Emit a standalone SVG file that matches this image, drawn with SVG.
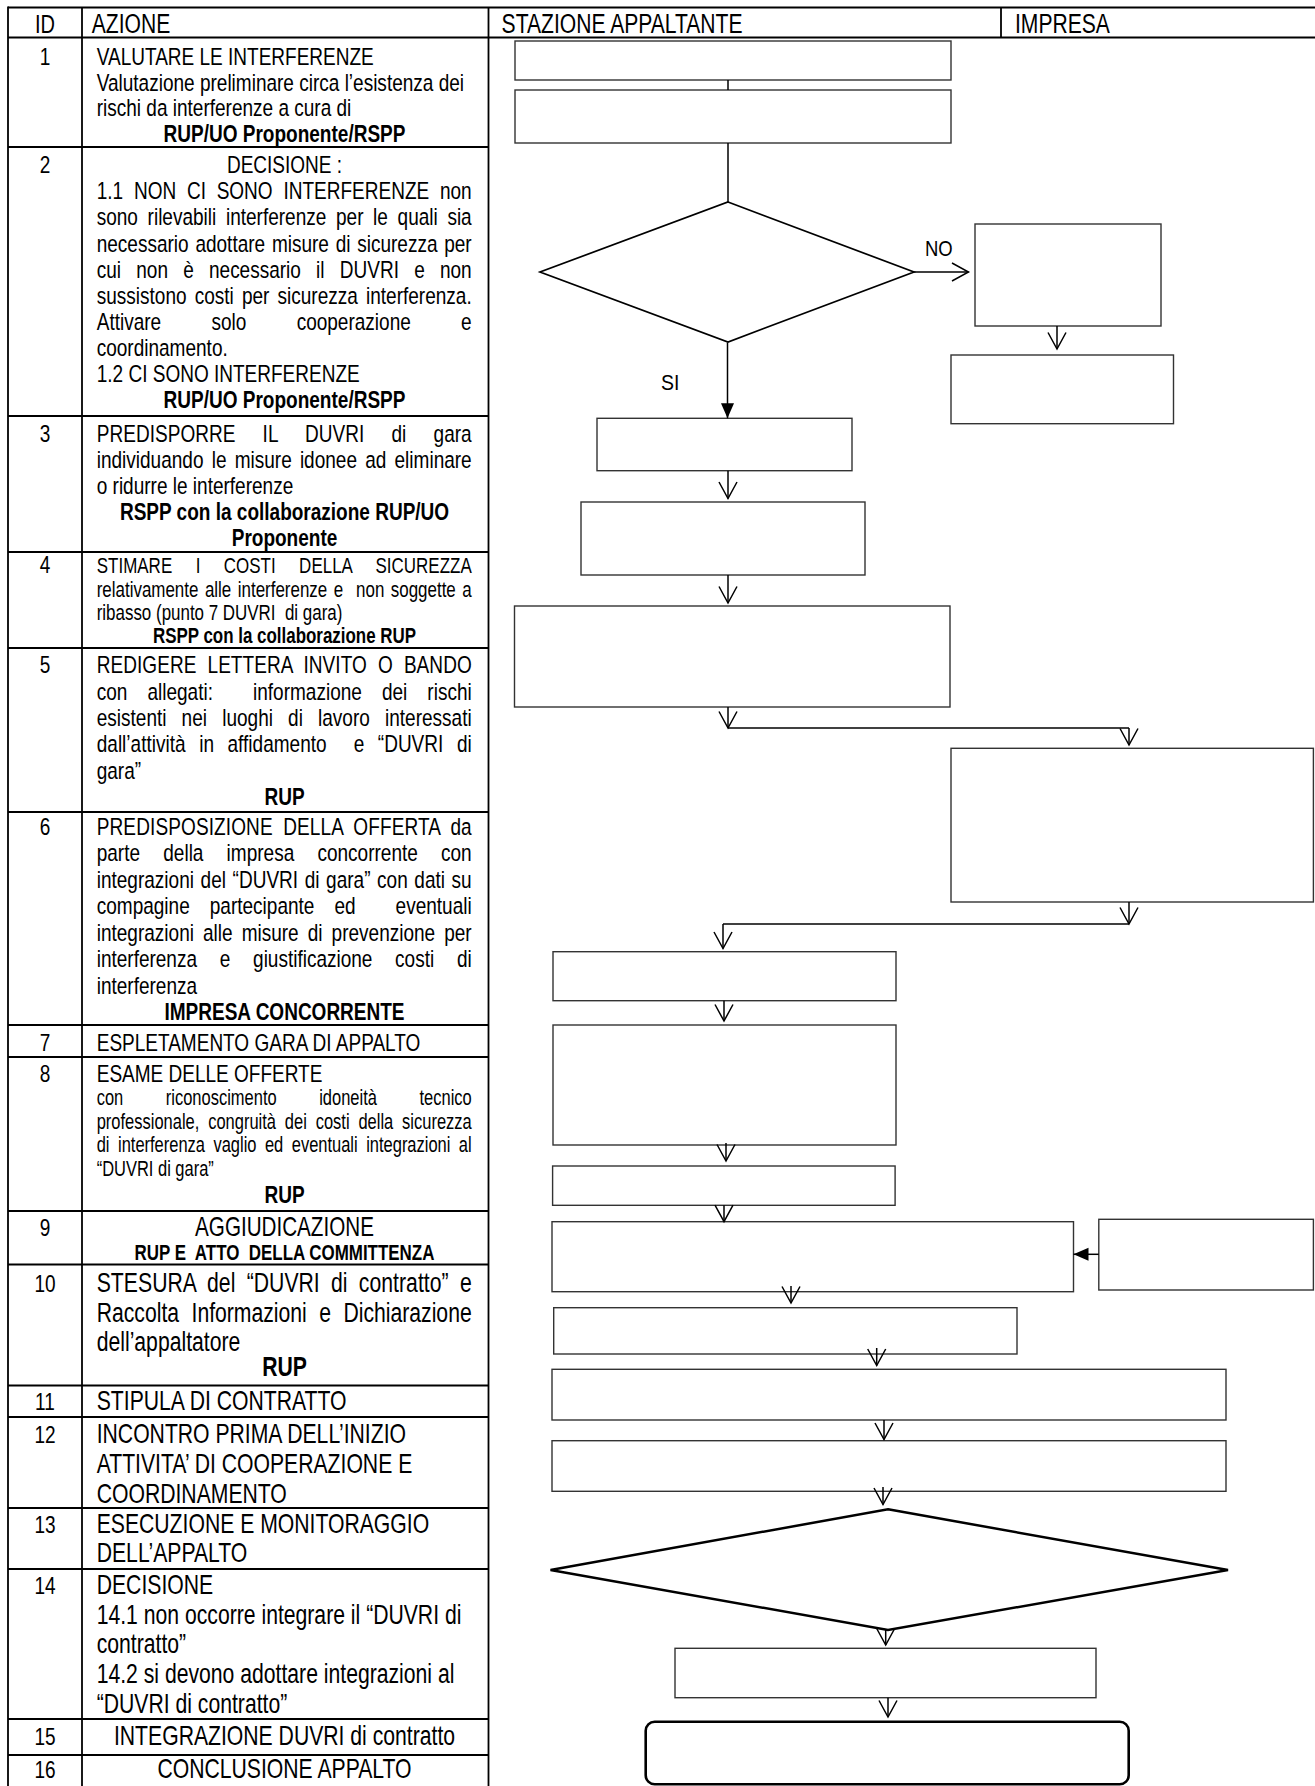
<svg xmlns="http://www.w3.org/2000/svg" width="1315" height="1786" viewBox="0 0 1315 1786">
<style>
.t{font-family:"Liberation Sans",Arial,sans-serif;fill:#000}
.b{font-weight:bold}
.m{text-anchor:middle}
.s22{font-size:22px}
.s214{font-size:21.4px}
.s247{font-size:24.7px}
.s268{font-size:26.8px}
.s275{font-size:27.5px}
.grid line{stroke:#000;stroke-width:1.8}
.box{fill:#fff;stroke:#333;stroke-width:1.4}
.dia{fill:#fff;stroke:#000}
.c{fill:none;stroke:#000;stroke-width:1.5}
.ao{marker-end:url(#open)}
.as{marker-end:url(#solid)}
.lbl{font-family:"Liberation Sans",Arial,sans-serif;font-size:22px;fill:#000}
</style>
<defs>
<marker id="open" markerUnits="userSpaceOnUse" markerWidth="20" markerHeight="22" viewBox="0 0 20 22" refX="18" refY="11" orient="auto"><path d="M1.5,2 L18,11 L1.5,20" fill="none" stroke="#000" stroke-width="1.5"/></marker>
<marker id="solid" markerUnits="userSpaceOnUse" markerWidth="16" markerHeight="14" viewBox="0 0 16 14" refX="15" refY="7" orient="auto"><path d="M0,0.5 L15,7 L0,13.5 z" fill="#000"/></marker>
</defs>
<rect width="1315" height="1786" fill="#fff"/>

<g id="table-grid" class="grid">
<line x1="8" y1="7.5" x2="1315" y2="7.5"/>
<line x1="8" y1="37.5" x2="1315" y2="37.5"/>
<line x1="1001" y1="7.5" x2="1001" y2="37.5"/>
<line x1="8" y1="6.6" x2="8" y2="1786"/>
<line x1="82" y1="7.5" x2="82" y2="1786"/>
<line x1="488.5" y1="7.5" x2="488.5" y2="1786"/>
<line x1="8" y1="147" x2="488.5" y2="147"/>
<line x1="8" y1="416" x2="488.5" y2="416"/>
<line x1="8" y1="552" x2="488.5" y2="552"/>
<line x1="8" y1="648" x2="488.5" y2="648"/>
<line x1="8" y1="812" x2="488.5" y2="812"/>
<line x1="8" y1="1025" x2="488.5" y2="1025"/>
<line x1="8" y1="1057" x2="488.5" y2="1057"/>
<line x1="8" y1="1211" x2="488.5" y2="1211"/>
<line x1="8" y1="1264.5" x2="488.5" y2="1264.5"/>
<line x1="8" y1="1385.5" x2="488.5" y2="1385.5"/>
<line x1="8" y1="1417" x2="488.5" y2="1417"/>
<line x1="8" y1="1508" x2="488.5" y2="1508"/>
<line x1="8" y1="1569" x2="488.5" y2="1569"/>
<line x1="8" y1="1719" x2="488.5" y2="1719"/>
<line x1="8" y1="1755" x2="488.5" y2="1755"/>
</g>

<g id="header" class="t" transform="scale(0.77 1)" font-size="27.4">
<text x="58.4" y="33" class="m" font-size="26">ID</text>
<text x="119.1" y="33">AZIONE</text>
<text x="651.4" y="33">STAZIONE APPALTANTE</text>
<text x="1318.2" y="33">IMPRESA</text>
</g>

<g id="row-1" class="t s247" transform="scale(0.77 1)">
<text x="58.4" y="65" class="m">1</text>
<text x="125.6" y="65">VALUTARE LE INTERFERENZE</text>
<text x="125.6" y="91">Valutazione preliminare circa l’esistenza dei</text>
<text x="125.6" y="116.5">rischi da interferenze a cura di</text>
<text x="369.5" y="142" class="m b">RUP/UO Proponente/RSPP</text>
</g>

<g id="row-2" class="t s247" transform="scale(0.77 1)">
<text x="58.4" y="173.3" class="m">2</text>
<text x="369.5" y="173.3" class="m">DECISIONE :</text>
<text x="125.6" y="199.4" word-spacing="7.08" textLength="487" lengthAdjust="spacing">1.1 NON CI SONO INTERFERENZE non</text>
<text x="125.6" y="225.5" word-spacing="5.67" textLength="487" lengthAdjust="spacing">sono rilevabili interferenze per le quali sia</text>
<text x="125.6" y="251.6" word-spacing="1.86" textLength="487" lengthAdjust="spacing">necessario adottare misure di sicurezza per</text>
<text x="125.6" y="277.6" word-spacing="12.9" textLength="487" lengthAdjust="spacing">cui non è necessario il DUVRI e non</text>
<text x="125.6" y="303.7" word-spacing="3.7" textLength="487" lengthAdjust="spacing">sussistono costi per sicurezza interferenza.</text>
<text x="125.6" y="329.8" word-spacing="58.5" textLength="487" lengthAdjust="spacing">Attivare solo cooperazione e</text>
<text x="125.6" y="355.9">coordinamento.</text>
<text x="125.6" y="382">1.2 CI SONO INTERFERENZE</text>
<text x="369.5" y="408" class="m b">RUP/UO Proponente/RSPP</text>
</g>

<g id="row-3" class="t s247" transform="scale(0.77 1)">
<text x="58.4" y="441.7" class="m">3</text>
<text x="125.6" y="441.7" word-spacing="28.4" textLength="487" lengthAdjust="spacing">PREDISPORRE IL DUVRI di gara</text>
<text x="125.6" y="467.7" word-spacing="3.78" textLength="487" lengthAdjust="spacing">individuando le misure idonee ad eliminare</text>
<text x="125.6" y="493.7">o ridurre le interferenze</text>
<text x="369.5" y="519.7" class="m b">RSPP con la collaborazione RUP/UO</text>
<text x="369.5" y="545.7" class="m b">Proponente</text>
</g>

<g id="row-4" class="t s22" transform="scale(0.77 1)">
<text x="58.4" y="573.3" class="m s247">4</text>
<text x="125.6" y="573.3" word-spacing="24.25" textLength="487" lengthAdjust="spacing">STIMARE I COSTI DELLA SICUREZZA</text>
<text x="125.6" y="596.6" xml:space="preserve" word-spacing="2.31" textLength="487" lengthAdjust="spacing">relativamente alle interferenze e  non soggette a</text>
<text x="125.6" y="620" xml:space="preserve">ribasso (punto 7 DUVRI  di gara)</text>
<text x="369.5" y="643.3" class="m b">RSPP con la collaborazione RUP</text>
</g>

<g id="row-5" class="t s247" transform="scale(0.77 1)">
<text x="58.4" y="673.3" class="m">5</text>
<text x="125.6" y="673.3" word-spacing="7.5" textLength="487" lengthAdjust="spacing">REDIGERE LETTERA INVITO O BANDO</text>
<text x="125.6" y="699.6" xml:space="preserve" word-spacing="19.2" textLength="487" lengthAdjust="spacing">con allegati:  informazione dei rischi</text>
<text x="125.6" y="726" word-spacing="12.8" textLength="487" lengthAdjust="spacing">esistenti nei luoghi di lavoro interessati</text>
<text x="125.6" y="752.3" xml:space="preserve" word-spacing="10.7" textLength="487" lengthAdjust="spacing">dall’attività in affidamento  e “DUVRI di</text>
<text x="125.6" y="778.6">gara”</text>
<text x="369.5" y="805" class="m b">RUP</text>
</g>

<g id="row-6" class="t s247" transform="scale(0.77 1)">
<text x="58.4" y="835" class="m">6</text>
<text x="125.6" y="835" word-spacing="6.47" textLength="487" lengthAdjust="spacing">PREDISPOSIZIONE DELLA OFFERTA da</text>
<text x="125.6" y="861.4" word-spacing="23.25" textLength="487" lengthAdjust="spacing">parte della impresa concorrente con</text>
<text x="125.6" y="887.9" word-spacing="1.71" textLength="487" lengthAdjust="spacing">integrazioni del “DUVRI di gara” con dati su</text>
<text x="125.6" y="914.3" xml:space="preserve" word-spacing="19.1" textLength="487" lengthAdjust="spacing">compagine partecipante ed  eventuali</text>
<text x="125.6" y="940.7" word-spacing="4.88" textLength="487" lengthAdjust="spacing">integrazioni alle misure di prevenzione per</text>
<text x="125.6" y="967.1" word-spacing="22.7" textLength="487" lengthAdjust="spacing">interferenza e giustificazione costi di</text>
<text x="125.6" y="993.6">interferenza</text>
<text x="369.5" y="1020" class="m b">IMPRESA CONCORRENTE</text>
</g>

<g id="row-7" class="t s247" transform="scale(0.77 1)">
<text x="58.4" y="1050.7" class="m">7</text>
<text x="125.6" y="1050.7">ESPLETAMENTO GARA DI APPALTO</text>
</g>

<g id="row-8" class="t s214" transform="scale(0.77 1)">
<text x="58.4" y="1081.7" class="m s247">8</text>
<text x="125.6" y="1081.7" class="s247">ESAME DELLE OFFERTE</text>
<text x="125.6" y="1105" word-spacing="49.3" textLength="487" lengthAdjust="spacing">con riconoscimento idoneità tecnico</text>
<text x="125.6" y="1128.7" word-spacing="5.58" textLength="487" lengthAdjust="spacing">professionale, congruità dei costi della sicurezza</text>
<text x="125.6" y="1152.4" word-spacing="5.05" textLength="487" lengthAdjust="spacing">di interferenza vaglio ed eventuali integrazioni al</text>
<text x="125.6" y="1176">“DUVRI di gara”</text>
<text x="369.5" y="1203.3" class="m b s247">RUP</text>
</g>

<g id="row-9" class="t" transform="scale(0.77 1)">
<text x="58.4" y="1235.7" class="m s247">9</text>
<text x="369.5" y="1235.7" class="m s268">AGGIUDICAZIONE</text>
<text x="369.5" y="1260" class="m b s22" xml:space="preserve">RUP E  ATTO  DELLA COMMITTENZA</text>
</g>

<g id="row-10" class="t s275" transform="scale(0.77 1)">
<text x="58.4" y="1292.3" class="m s247">10</text>
<text x="125.6" y="1292.3" word-spacing="6.94" textLength="487" lengthAdjust="spacing">STESURA del “DUVRI di contratto” e</text>
<text x="125.6" y="1321.8" word-spacing="8.5" textLength="487" lengthAdjust="spacing">Raccolta Informazioni e Dichiarazione</text>
<text x="125.6" y="1351.5">dell’appaltatore</text>
<text x="369.5" y="1376" class="m b">RUP</text>
</g>

<g id="row-11" class="t s275" transform="scale(0.77 1)">
<text x="58.4" y="1410" class="m s247">11</text>
<text x="125.6" y="1410">STIPULA DI CONTRATTO</text>
</g>

<g id="row-12" class="t s275" transform="scale(0.77 1)">
<text x="58.4" y="1443" class="m s247">12</text>
<text x="125.6" y="1443">INCONTRO PRIMA DELL’INIZIO</text>
<text x="125.6" y="1472.8">ATTIVITA’ DI COOPERAZIONE E</text>
<text x="125.6" y="1502.7">COORDINAMENTO</text>
</g>

<g id="row-13" class="t s275" transform="scale(0.77 1)">
<text x="58.4" y="1532.6" class="m s247">13</text>
<text x="125.6" y="1532.6">ESECUZIONE E MONITORAGGIO</text>
<text x="125.6" y="1562.5">DELL’APPALTO</text>
</g>

<g id="row-14" class="t s275" transform="scale(0.77 1)">
<text x="58.4" y="1594.2" class="m s247">14</text>
<text x="125.6" y="1594.2">DECISIONE</text>
<text x="125.6" y="1624.1">14.1 non occorre integrare il “DUVRI di</text>
<text x="125.6" y="1653.5">contratto”</text>
<text x="125.6" y="1683.2">14.2 si devono adottare integrazioni al</text>
<text x="125.6" y="1712.7">“DUVRI di contratto”</text>
</g>

<g id="row-15" class="t s275" transform="scale(0.77 1)">
<text x="58.4" y="1744.8" class="m s247">15</text>
<text x="369.5" y="1744.8" class="m">INTEGRAZIONE DUVRI di contratto</text>
</g>

<g id="row-16" class="t s275" transform="scale(0.77 1)">
<text x="58.4" y="1778.5" class="m s247">16</text>
<text x="369.5" y="1778.5" class="m">CONCLUSIONE APPALTO</text>
</g>

<g id="node-1a"><rect class="box" x="515" y="41" width="436" height="39"/></g>
<g id="node-1b"><rect class="box" x="515" y="90" width="436" height="53"/></g>
<g id="node-2-decision"><polygon class="dia" stroke-width="1.7" points="728,202 914,272 728,342 540,272"/></g>
<g id="node-2-no-a"><rect class="box" x="975" y="224" width="186" height="102"/></g>
<g id="node-2-no-b"><rect class="box" x="951" y="355" width="222.5" height="68.7"/></g>
<g id="node-3"><rect class="box" x="597" y="418.3" width="255" height="52.4"/></g>
<g id="node-4"><rect class="box" x="581" y="502" width="284" height="73"/></g>
<g id="node-5"><rect class="box" x="514.5" y="606" width="435.5" height="101"/></g>
<g id="node-6"><rect class="box" x="951" y="748.3" width="362.4" height="153.7"/></g>
<g id="node-7"><rect class="box" x="553" y="951.7" width="343" height="49"/></g>
<g id="node-8"><rect class="box" x="553" y="1025" width="343" height="120"/></g>
<g id="node-9"><rect class="box" x="552.6" y="1166" width="342.5" height="39.3"/></g>
<g id="node-10"><rect class="box" x="552" y="1221.7" width="521.5" height="70"/></g>
<g id="node-10-impresa"><rect class="box" x="1098.8" y="1219.3" width="214.6" height="70.7"/></g>
<g id="node-11"><rect class="box" x="553.7" y="1307.7" width="463.3" height="46.3"/></g>
<g id="node-12"><rect class="box" x="552" y="1369.3" width="674" height="50.7"/></g>
<g id="node-13"><rect class="box" x="552" y="1440.7" width="674" height="50.6"/></g>
<g id="node-14-decision"><polygon class="dia" stroke-width="2.5" points="888,1509.3 1228,1570 888,1630 550.5,1570"/></g>
<g id="node-15"><rect class="box" x="675" y="1648.3" width="421" height="49.4"/></g>
<g id="node-16"><rect x="645.7" y="1721.7" width="483" height="62.6" rx="9" ry="9" fill="#fff" stroke="#000" stroke-width="2.6"/></g>

<g id="connectors">
<path class="c" d="M728,80 V90"/>
<path class="c" d="M728,143 V202"/>
<path class="c ao" d="M914,272 H968.5"/>
<path class="c ao" d="M1057,326 V349"/>
<path class="c as" d="M727.5,342.5 V418.3"/>
<path class="c ao" d="M728,470.7 V498.5"/>
<path class="c ao" d="M728,575 V603"/>
<path class="c ao" d="M728,707 V728"/>
<path class="c" d="M728,728 H1129"/>
<path class="c ao" d="M1129,728 V745"/>
<path class="c ao" d="M1129,902 V924"/>
<path class="c" d="M1129,924 H723"/>
<path class="c ao" d="M723,924 V948.5"/>
<path class="c ao" d="M724,1000.7 V1021"/>
<path class="c ao" d="M726,1143 V1161"/>
<path class="c ao" d="M724,1205.3 V1221.7"/>
<path class="c as" d="M1098.8,1254.3 H1073.5"/>
<path class="c ao" d="M791,1286 V1303"/>
<path class="c ao" d="M876.7,1348 V1365.5"/>
<path class="c ao" d="M884,1420 V1439.5"/>
<path class="c ao" d="M883,1487 V1504.5"/>
<path class="c ao" d="M885.7,1630 V1645"/>
<path class="c ao" d="M888,1697.7 V1717"/>
<text class="lbl" x="925" y="256" textLength="27.7" lengthAdjust="spacingAndGlyphs">NO</text>
<text class="lbl" x="661" y="390" textLength="18.4" lengthAdjust="spacingAndGlyphs">SI</text>
</g>
</svg>
